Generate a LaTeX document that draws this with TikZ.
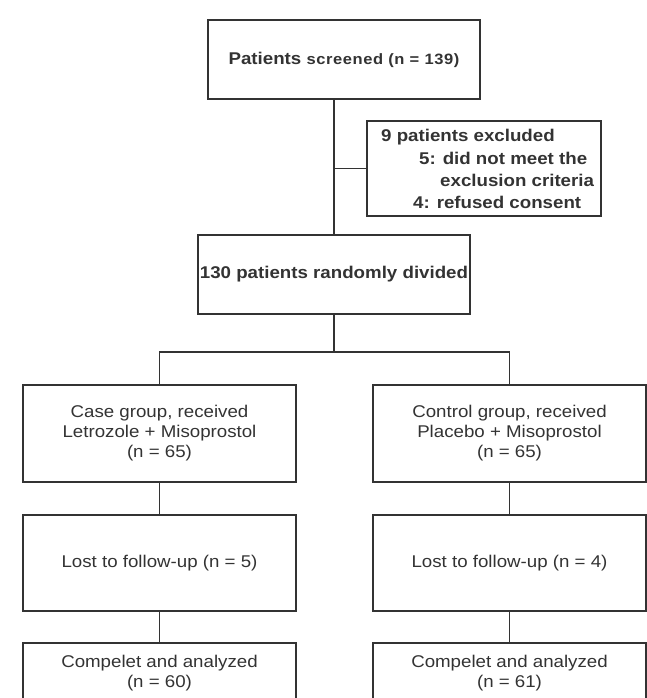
\documentclass[tikz,border=0pt]{standalone}
\usepackage{fontspec}
\setmainfont{Liberation Sans}[FakeStretch=1.1]
\definecolor{ink}{HTML}{333333}
\tikzset{
  box/.style={draw=ink, line width=1.2pt, inner sep=0pt, align=center, text=ink,
              minimum width=273pt, font=\fontsize{17}{20}\selectfont},
  bigbox/.style={box, minimum height=97pt},
  txt/.style={text=ink, inner sep=0pt, align=center, font=\fontsize{17}{20}\selectfont},
  btxt/.style={text=ink, inner sep=0pt, anchor=base west, font=\fontsize{17}{20}\selectfont\bfseries},
  link/.style={draw=ink, line width=1.2pt}
}
\begin{document}
\begin{tikzpicture}[x=1pt,y=-1pt]
\useasboundingbox (0,0) rectangle (647,698);
% top box
\node[box, minimum width=272pt, minimum height=79pt] (screen) at (344,59.5)
  {\bfseries Patients {\fontsize{15}{18}\selectfont\addfontfeature{LetterSpace=4} screened (n = 139)}};
% exclusion box
\node[box, minimum width=234pt, minimum height=95pt] (excl) at (484,168.5) {};
\node[btxt] (e1) at (381,141.5) {9 patients excluded};
\node[btxt] (e2) at (419,164) {5: did not meet the};
\node[btxt] (e3) at (440,186.5) {exclusion criteria};
\node[btxt] (e4) at (413,208.5) {4: refused consent};
% randomised
\node[box, minimum width=272pt, minimum height=79pt] (rand) at (334,274.5)
  {\bfseries 130 patients randomly divided};
% groups
\node[bigbox] (case) at (159.5,433.5) {Case group, received\\Letrozole + Misoprostol\\(n = 65)};
\node[bigbox] (ctrl) at (509.5,433.5) {Control group, received\\Placebo + Misoprostol\\(n = 65)};
\node[bigbox, minimum height=96pt] (lost1) at (159.5,563) {Lost to follow-up (n = 5)};
\node[bigbox, minimum height=96pt] (lost2) at (509.5,563) {Lost to follow-up (n = 4)};
\node[box, minimum height=80pt] (comp1) at (159.5,683) {};
\node[box, minimum height=80pt] (comp2) at (509.5,683) {};
\node[txt] (c1t) at (159.5,673.5) {Compelet and analyzed\\(n = 60)};
\node[txt] (c2t) at (509.5,673.5) {Compelet and analyzed\\(n = 61)};
% connectors
\coordinate (br) at (334,352);
\draw[link] (rand.north |- screen.south) -- (rand.north);
\draw[link] (excl.west -| rand.north) -- (excl.west);
\draw[link] (rand.south) -- (br);
\draw[link] (case.north) |- (br) -| (ctrl.north);
\draw[link] (case.south) -- (lost1.north);
\draw[link] (ctrl.south) -- (lost2.north);
\draw[link] (lost1.south) -- (comp1.north);
\draw[link] (lost2.south) -- (comp2.north);
\end{tikzpicture}
\end{document}
